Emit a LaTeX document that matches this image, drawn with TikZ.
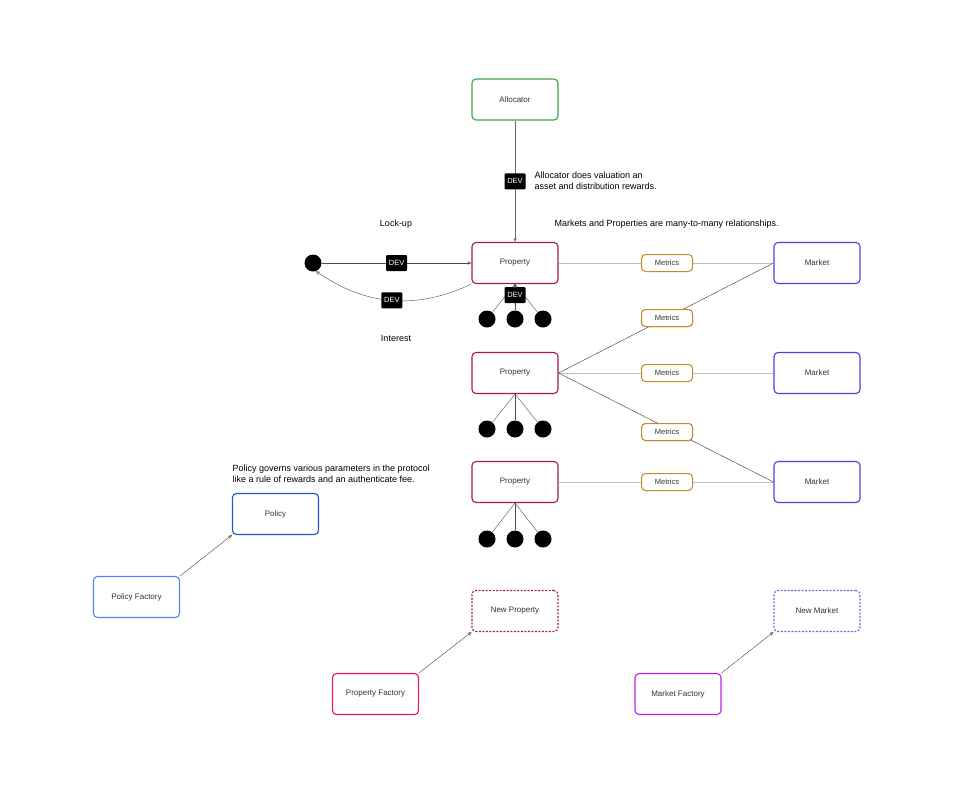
\documentclass[tikz,border=0pt]{standalone}
\usepackage{fontspec}
\setmainfont{Liberation Sans}
\usetikzlibrary{arrows.meta}

\definecolor{allocgreen}{HTML}{3AA64A}
\definecolor{propred}{HTML}{A8175C}
\definecolor{propfacred}{HTML}{F01060}
\definecolor{marketviolet}{HTML}{6236E0}
\definecolor{mktfacviolet}{HTML}{C020E8}
\definecolor{policyblue}{HTML}{1F57C3}
\definecolor{polfacblue}{HTML}{4A8AF5}
\definecolor{metricsgold}{HTML}{C48A2C}

\tikzset{
  box/.style={draw, line width=1.1pt, rounded corners=4pt, minimum width=86pt, minimum height=41pt, font=\fontsize{8}{9}\selectfont, text=black!80},
  metrics/.style={draw=metricsgold, line width=1pt, rounded corners=4pt, minimum width=51pt, minimum height=17pt, inner sep=0pt, font=\fontsize{7.5}{9}\selectfont, text=black!80, fill=white},
  dev/.style={fill=black, text=white, rounded corners=1pt, minimum width=21pt, minimum height=16pt, inner sep=0pt, font=\fontsize{7.5}{9}\selectfont},
  token/.style={circle, fill=black, minimum size=17pt, inner sep=0pt},
  note/.style={align=left, anchor=west, font=\fontsize{9}{11}\selectfont},
  link/.style={draw=black!25, line width=1pt},
  rel/.style={draw=black!80, thin}
}

\begin{document}
\begin{tikzpicture}[x=1pt, y=-1pt, >={Stealth[length=4pt, width=3.5pt, open]}]
  \useasboundingbox (0,0) rectangle (954,793);

  \node [box, draw=allocgreen] (alloc) at (515,99.5) {Allocator};

  \node [box, draw=propred] (prop1) at (515,263) {Property};
  \node [box, draw=propred] (prop2) at (515,373) {Property};
  \node [box, draw=propred] (prop3) at (515,482) {Property};

  \node [box, draw=marketviolet] (mkt1) at (817,263) {Market};
  \node [box, draw=marketviolet] (mkt2) at (817,373) {Market};
  \node [box, draw=marketviolet] (mkt3) at (817,482) {Market};

  \node [metrics] (met1) at (667,263) {Metrics};
  \node [metrics] (met2) at (667,318) {Metrics};
  \node [metrics] (met3) at (667,373) {Metrics};
  \node [metrics] (met4) at (667,432) {Metrics};
  \node [metrics] (met5) at (667,482) {Metrics};

  \node [box, draw=policyblue] (policy) at (275.5,514) {Policy};
  \node [box, draw=polfacblue] (polfac) at (136.5,597) {Policy Factory};
  \node [box, draw=propred, dash pattern=on 2pt off 1.5pt] (newprop) at (515,611) {New Property};
  \node [box, draw=propfacred] (propfac) at (375.5,694) {Property Factory};
  \node [box, draw=marketviolet!80, dash pattern=on 2pt off 1.5pt] (newmkt) at (817,611) {New Market};
  \node [box, draw=mktfacviolet] (mktfac) at (678,694) {Market Factory};

  \node [token] (lock) at (313,263) {};
  \node [token] (t11) at (487,319) {};
  \node [token] (t12) at (515,319) {};
  \node [token] (t13) at (543,319) {};
  \node [token] (t21) at (487,429) {};
  \node [token] (t22) at (515,429) {};
  \node [token] (t23) at (543,429) {};
  \node [token] (t31) at (487,539) {};
  \node [token] (t32) at (515,539) {};
  \node [token] (t33) at (543,539) {};

  % allocator
  \draw [->, black!60] (alloc) -- node [dev] {DEV} (prop1);
  \node [note] at (531,180.5) {Allocator does valuation an\\asset and distribution rewards.};
  \node [note] at (551,224) {Markets and Properties are many-to-many relationships.};

  % lock-up and interest
  \node [font=\fontsize{9}{10}\selectfont] (lockup) at (396,224) {Lock-up};
  \node [font=\fontsize{9}{10}\selectfont] (interest) at (396,338) {Interest};
  \draw [->, black!70] (lock) -- node [dev] {DEV} (prop1);
  \draw [->, black!70] (prop1.south west) to [bend left=30] node [dev] {DEV} (lock.-70);

  % holders
  \foreach \p in {1,2,3} {
    \foreach \t in {1,2,3} {
      \draw [black!70] (prop\p.south) -- (t\p\t);
    }
  }
  \node [dev] (dev3) at (515,295) {DEV};
  \draw [->, black!70] (dev3) -- (prop1.south);

  % markets and properties
  \draw [link] (prop1) -- (met1) -- (mkt1);
  \draw [link] (prop2) -- (met3) -- (mkt2);
  \draw [link] (prop3) -- (met5) -- (mkt3);
  \draw [rel] (prop2.east) -- (mkt1.west);
  \draw [rel] (prop2.east) -- (mkt3.west);
  \node [metrics] at (met2) {Metrics};
  \node [metrics] at (met4) {Metrics};

  % factories
  \node [note] at (229,473.5) {Policy governs various parameters in the protocol\\like a rule of rewards and an authenticate fee.};
  \draw [->, black!75] (polfac.north east) -- (policy.south west);
  \draw [->, black!75] (propfac.north east) -- (newprop.south west);
  \draw [->, black!75] (mktfac.north east) -- (newmkt.south west);
\end{tikzpicture}
\end{document}
